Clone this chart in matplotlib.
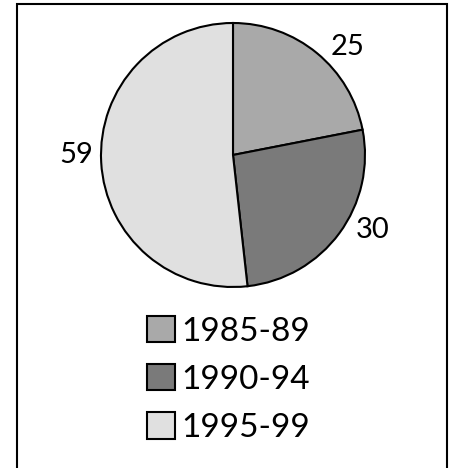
import matplotlib
matplotlib.use("Agg")
import matplotlib.pyplot as plt
from matplotlib.patches import Rectangle

periods = ["1985-89", "1990-94", "1995-99"]
counts = [25, 30, 59]
shades = ["#a9a9a9", "#7a7a7a", "#e0e0e0"]
# where each value label sits, in pie radii from the centre
label_xy = [(0.87, 0.82), (1.06, -0.57), (-1.19, 0.0)]

plt.rcParams['font.family'] = ['Lato', 'DejaVu Sans']

W, H = 452, 468
fig = plt.figure(figsize=(W / 100, H / 100), dpi=100)

# outer frame, bottom edge runs off the image
fig.add_artist(Rectangle((17 / W, -0.05), 430 / W, (H - 4) / H + 0.05,
                         transform=fig.transFigure, fill=False,
                         edgecolor="black", linewidth=1.5))

# pie axes: centre (233, 155) px, radius 132 px
r = 132
ax = fig.add_axes([(233 - r) / W, (H - 155 - r) / H, 2 * r / W, 2 * r / H])
wedges, texts = ax.pie(counts, labels=[str(c) for c in counts], colors=shades,
                       startangle=90, counterclock=False,
                       wedgeprops=dict(edgecolor="black", linewidth=1.5),
                       textprops=dict(fontsize=21))
for t, xy in zip(texts, label_xy):
    t.set_position(xy)
    t.set_ha("center")
    t.set_va("center")
ax.set_xlim(-1, 1)
ax.set_ylim(-1, 1)
ax.set_aspect("equal")
ax.axis("off")

leg = fig.legend(wedges, periods, loc="upper left",
                 bbox_to_anchor=(147 / W, (H - 316) / H),
                 frameon=False, fontsize=24, handlelength=0.84,
                 handleheight=0.84, handletextpad=0.2, labelspacing=0.52,
                 borderpad=0, borderaxespad=0)

fig.savefig("out.png", dpi=100)
